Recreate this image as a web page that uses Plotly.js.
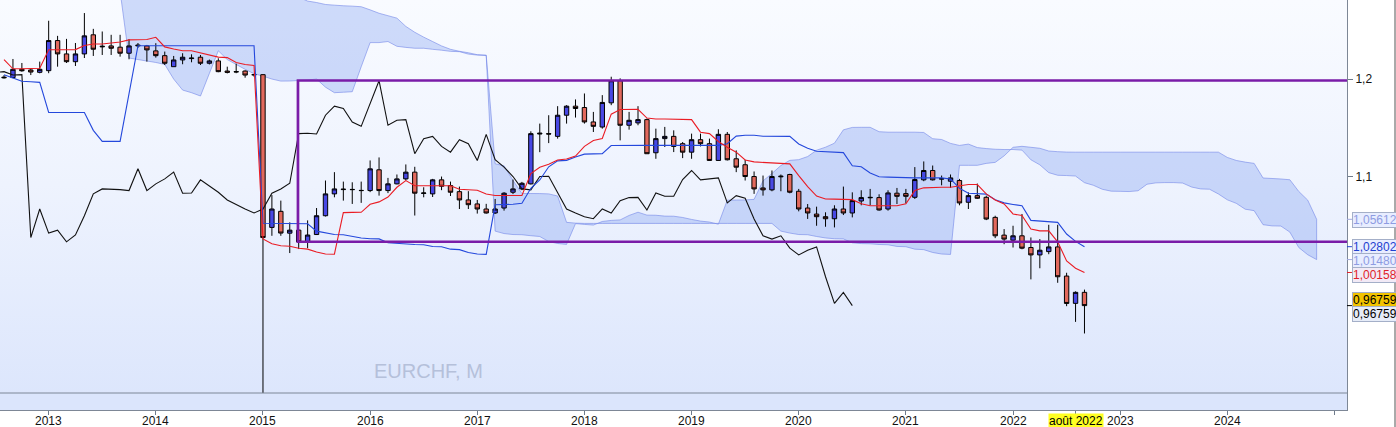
<!DOCTYPE html>
<html><head><meta charset="utf-8">
<script src="https://cdn.plot.ly/plotly-3.0.1.min.js"></script>
<style>
html,body{margin:0;padding:0;background:#fff;width:1396px;height:427px;overflow:hidden;}
#bg{position:absolute;left:0;top:0;width:1347px;height:410px;background:linear-gradient(to bottom,#f9fbff 0%,#eef3fe 45%,#dbe5fc 100%);}
#chart{position:absolute;left:0;top:0;width:1396px;height:427px;}
</style></head><body>
<div id="bg"></div><div id="chart"></div>
<script>
// Monthly EURCHF, Aug 2012 .. Sep 2022 (index 0 = Jan 2013)
const firstMonth = -5;
const open  = [1.2012,1.2015,1.2100,1.2093,1.2069,
 1.2086,1.2395,1.2258,1.2178,1.2258,1.2454,1.2330,1.2340,1.2327,1.2265,
 1.2340,1.2340,1.2289,1.2240,1.2127,1.2196,1.2210,1.2224,1.2162,1.2186,
 1.2082,1.2072,1.2082,1.2043,1.2045,1.0478,1.0643,1.0419,1.0450,1.0333,
 1.0405,1.0598,1.0822,1.0866,1.0868,1.0858,1.0856,1.1069,1.0856,1.0925,
 1.0976,1.1045,1.0827,1.0822,1.0966,1.0907,1.0845,1.0760,1.0719,1.0667,
 1.0626,1.0677,1.0839,1.0873,1.0925,1.1436,1.1440,1.1412,1.1629,1.1722,
 1.1708,1.1560,1.1508,1.1756,1.1983,1.1526,1.1550,1.1584,1.1244,1.1389,
 1.1412,1.1337,1.1250,1.1378,1.1337,1.1165,1.1433,1.1182,1.1121,1.1000,
 1.0883,1.0863,1.0997,1.1021,1.0849,1.0677,1.0615,1.0588,1.0567,1.0667,
 1.0626,1.0749,1.0782,1.0784,1.0667,1.0829,1.0825,1.0787,1.0966,1.1062,
 1.0973,1.0952,1.0959,1.0736,1.0804,1.0787,1.0581,1.0399,1.0347,1.0392,
 1.0272,1.0196,1.0230,1.0278,0.9979,0.9699,0.9812];
const high  = [1.2040,1.2206,1.2165,1.2110,1.2179,
 1.2598,1.2443,1.2412,1.2370,1.2677,1.2515,1.2488,1.2454,1.2454,1.2409,
 1.2370,1.2350,1.2368,1.2282,1.2237,1.2265,1.2254,1.2247,1.2200,1.2213,
 1.2127,1.2158,1.2090,1.2050,1.2050,1.0810,1.0753,1.0530,1.0460,1.0550,
 1.0677,1.0959,1.1045,1.0948,1.0941,1.0948,1.1165,1.1196,1.0986,1.1021,
 1.1124,1.1100,1.0890,1.0976,1.1000,1.0948,1.0897,1.0850,1.0760,1.0720,
 1.0770,1.0840,1.0969,1.0945,1.1464,1.1543,1.1629,1.1722,1.1732,1.1791,
 1.1852,1.1663,1.1835,1.2024,1.2007,1.1663,1.1722,1.1595,1.1491,1.1509,
 1.1474,1.1354,1.1440,1.1440,1.1389,1.1485,1.1457,1.1268,1.1172,1.1052,
 1.1010,1.1062,1.1021,1.1028,1.0873,1.0718,1.0691,1.0633,1.0705,1.0897,
 1.0838,1.0859,1.0873,1.0818,1.0859,1.0883,1.0873,1.1097,1.1155,1.1113,
 1.1010,1.1021,1.0976,1.0838,1.0928,1.0804,1.0598,1.0461,1.0495,1.0616,
 1.0375,1.0358,1.0505,1.0505,1.0013,0.9822,0.9840];
const low   = [1.2005,1.2010,1.2075,1.2041,1.2059,
 1.2060,1.2127,1.2165,1.2134,1.2216,1.2237,1.2247,1.2247,1.2230,1.2203,
 1.2320,1.2179,1.2220,1.2144,1.2127,1.2152,1.2172,1.2144,1.2150,1.2070,
 1.2058,1.2060,1.2014,1.2025,0.8352,1.0392,1.0392,1.0215,1.0256,1.0265,
 1.0400,1.0590,1.0787,1.0753,1.0719,1.0730,1.0840,1.0804,1.0830,1.0920,
 1.0960,1.0600,1.0787,1.0790,1.0860,1.0800,1.0667,1.0667,1.0620,1.0620,
 1.0616,1.0650,1.0820,1.0860,1.0918,1.1250,1.1343,1.1389,1.1543,1.1605,
 1.1543,1.1457,1.1491,1.1732,1.1371,1.1481,1.1526,1.1234,1.1182,1.1303,
 1.1251,1.1189,1.1182,1.1309,1.1165,1.1165,1.1165,1.1045,1.0959,1.0822,
 1.0804,1.0849,1.0849,1.0828,1.0643,1.0565,1.0495,1.0485,1.0478,1.0605,
 1.0581,1.0705,1.0705,1.0650,1.0650,1.0718,1.0725,1.0770,1.0952,1.0959,
 1.0910,1.0883,1.0705,1.0667,1.0770,1.0553,1.0368,1.0306,1.0272,1.0254,
 0.9945,1.0059,1.0203,0.9910,0.9670,0.9509,0.9390];
const close = [1.2018,1.2100,1.2085,1.2072,1.2100,
 1.2395,1.2258,1.2178,1.2258,1.2443,1.2306,1.2336,1.2316,1.2265,1.2340,
 1.2347,1.2299,1.2240,1.2162,1.2196,1.2224,1.2215,1.2162,1.2186,1.2076,
 1.2069,1.2076,1.2041,1.2045,1.0374,1.0667,1.0420,1.0450,1.0330,1.0400,
 1.0598,1.0822,1.0873,1.0870,1.0866,1.0856,1.1079,1.0856,1.0925,1.0976,
 1.1045,1.0829,1.0831,1.0966,1.0900,1.0839,1.0760,1.0711,1.0667,1.0626,
 1.0667,1.0829,1.0873,1.0931,1.1440,1.1444,1.1436,1.1629,1.1722,1.1698,
 1.1560,1.1515,1.1760,1.1983,1.1526,1.1577,1.1584,1.1234,1.1389,1.1412,
 1.1309,1.1250,1.1378,1.1337,1.1165,1.1433,1.1172,1.1096,1.1000,1.0873,
 1.0863,1.1000,1.1003,1.0839,1.0667,1.0626,1.0588,1.0567,1.0667,1.0626,
 1.0753,1.0784,1.0786,1.0657,1.0832,1.0797,1.0797,1.0969,1.1062,1.0966,
 1.0979,1.0986,1.0729,1.0804,1.0777,1.0564,1.0392,1.0358,1.0392,1.0265,
 1.0196,1.0244,1.0278,0.9972,0.9698,0.9812,0.96759];
const tenkan = [1.2200,1.2105,1.2105,1.2105,1.2110,
 1.2300,1.2302,1.2302,1.2302,1.2344,1.2359,1.2359,1.2368,1.2380,1.2402,
 1.2406,1.2406,1.2428,1.2330,1.2308,1.2290,1.2290,1.2268,1.2249,1.2225,
 1.2220,1.2170,1.2150,1.2140,1.0360,1.0310,1.0290,1.0285,1.0265,1.0255,
 1.0225,1.0205,1.0203,1.0630,1.0632,1.0633,1.0715,1.0740,1.0790,1.0890,
 1.0958,1.0905,1.0905,1.0905,1.0905,1.0905,1.0870,1.0865,1.0860,1.0820,
 1.0805,1.0805,1.0805,1.0805,1.1030,1.1096,1.1125,1.1170,1.1180,1.1210,
 1.1310,1.1370,1.1390,1.1640,1.1687,1.1690,1.1690,1.1600,1.1590,1.1590,
 1.1590,1.1588,1.1584,1.1455,1.1440,1.1360,1.1300,1.1250,1.1170,1.1150,
 1.1145,1.1141,1.1141,1.1130,1.1010,1.0897,1.0800,1.0770,1.0768,1.0765,
 1.0763,1.0720,1.0701,1.0701,1.0701,1.0701,1.0720,1.0856,1.0884,1.0890,
 1.0890,1.0890,1.0904,1.0918,1.0918,1.0822,1.0760,1.0719,1.0616,1.0600,
 1.0461,1.0443,1.0443,1.0330,1.0134,1.0060,1.00158];
const kijun = [1.2045,1.2010,1.1978,1.1972,1.1966,
 1.1657,1.1657,1.1657,1.1657,1.1657,1.1474,1.1361,1.1361,1.1361,1.1850,
 1.2342,1.2342,1.2342,1.2342,1.2342,1.2342,1.2342,1.2342,1.2342,1.2342,
 1.2342,1.2342,1.2342,1.2342,1.0520,1.0520,1.0520,1.0520,1.0520,1.0515,
 1.0440,1.0420,1.0405,1.0403,1.0385,1.0370,1.0362,1.0360,1.0320,1.0312,
 1.0310,1.0303,1.0300,1.0283,1.0280,1.0255,1.0250,1.0221,1.0205,1.0201,
 1.0710,1.0712,1.0715,1.0726,1.0880,1.0965,1.1100,1.1161,1.1166,1.1200,
 1.1230,1.1232,1.1234,1.1318,1.1320,1.1320,1.1320,1.1320,1.1320,1.1320,
 1.1320,1.1320,1.1320,1.1320,1.1320,1.1320,1.1337,1.1415,1.1423,1.1423,
 1.1414,1.1412,1.1412,1.1412,1.1334,1.1290,1.1260,1.1255,1.1251,1.1245,
 1.1110,1.1100,1.1037,1.0998,1.0994,1.0990,1.0988,1.0986,1.0986,1.0986,
 1.0986,1.0975,1.0880,1.0828,1.0822,1.0820,1.0762,1.0730,1.0714,1.0700,
 1.0550,1.0545,1.0540,1.0530,1.0410,1.0335,1.0280];
// Cloud (Senkou spans), starting at index 8 (Sep 2013), projected to Nov 2024
const cloudStart = 8;
const senkouA = [1.2900,1.2216,
 1.2200,1.2185,1.2170,1.2150,1.2000,1.1887,1.1860,1.1826,1.2058,1.2290,
 1.2200,1.2150,1.2100,1.2055,1.2030,1.2000,1.1979,1.1980,1.1985,1.1990,
 1.2000,1.1917,1.1860,1.1865,1.1870,1.2126,1.2374,1.2374,1.2385,1.2336,
 1.2325,1.2316,1.2316,1.2305,1.2296,1.2284,1.2281,1.2256,1.2246,1.2241,
 1.0440,1.0415,1.0405,1.0403,1.0393,1.0385,1.0333,1.0313,1.0304,1.0517,
 1.0509,1.0502,1.0539,1.0550,1.0555,1.0601,1.0634,1.0604,1.0603,1.0594,
 1.0593,1.0580,1.0560,1.0543,1.0533,1.0511,1.0758,1.0759,1.0760,1.0766,
 1.0955,1.1031,1.1113,1.1166,1.1173,1.1205,1.1270,1.1301,1.1342,1.1479,
 1.1504,1.1505,1.1505,1.1460,1.1455,1.1455,1.1455,1.1455,1.1452,1.1388,
 1.1380,1.1340,1.1319,1.1333,1.1297,1.1287,1.1280,1.1277,1.1277,1.1271,
 1.1172,1.1120,1.1040,1.1013,1.1010,1.1005,1.0937,1.0910,1.0869,1.0850,
 1.0848,1.0846,1.0854,1.0921,1.0935,1.0938,1.0938,1.0933,1.0892,1.0873,
 1.0870,1.0821,1.0761,1.0725,1.0665,1.0650,1.0506,1.0494,1.0492,1.0430,
 1.0272,1.0198,1.0148];
const senkouB = [1.3300,1.3300,
 1.3300,1.3300,1.3300,1.3250,1.3200,1.3150,1.3100,1.3050,1.3000,1.2950,
 1.2950,1.2950,1.2900,1.2900,1.2900,1.2880,1.2870,1.2860,1.2840,1.2800,
 1.2785,1.2765,1.2758,1.2752,1.2748,1.2742,1.2710,1.2675,1.2650,1.2625,
 1.2540,1.2480,1.2430,1.2385,1.2340,1.2305,1.2285,1.2270,1.2250,1.2246,
 1.1131,1.1110,1.0960,1.0826,1.0826,1.0825,1.0822,1.0800,1.0530,1.0522,
 1.0519,1.0519,1.0519,1.0519,1.0519,1.0519,1.0519,1.0519,1.0519,1.0519,
 1.0519,1.0519,1.0519,1.0519,1.0519,1.0519,1.0519,1.0519,1.0519,1.0519,
 1.0519,1.0519,1.0440,1.0420,1.0405,1.0403,1.0385,1.0370,1.0362,1.0360,
 1.0320,1.0312,1.0310,1.0303,1.0300,1.0283,1.0280,1.0255,1.0250,1.0221,
 1.0205,1.0201,1.1115,1.1115,1.1115,1.1135,1.1145,1.1212,1.1300,1.1310,
 1.1300,1.1290,1.1262,1.1255,1.1251,1.1250,1.1250,1.1250,1.1250,1.1250,
 1.1250,1.1250,1.1250,1.1250,1.1250,1.1250,1.1250,1.1250,1.1250,1.1250,
 1.1250,1.1250,1.1196,1.1165,1.1148,1.1135,1.0985,1.0980,1.0975,1.0967,
 1.0847,1.0758,1.05612];
const chikouShift = 26;
const yearLabels = ['2013','2014','2015','2016','2017','2018','2019','2020','2021','2022','2023','2024',''];
const yTickVals = [1.1, 1.2];
const rangeTop = 1.1985, rangeBottom = 1.0331, rangeStart = 27.92; // drawn channel
const lastValues = [1.05612, 1.02802, 1.01480, 1.00158, 0.96759, 0.96759];
const markMonth = 115, markLabel = 'août 2022';

const monthIdx = open.map((_, k) => k + firstMonth);
const cloudIdx = senkouA.map((_, k) => k + cloudStart);
const chikouIdx = monthIdx.map(i => i - chikouShift);
const yearTicks = yearLabels.map((_, k) => k * 12);
const fmt = v => v.toFixed(5).replace('.', ',');

const FONT = 'Liberation Sans, Arial, sans-serif';
const edge = 'rgba(105,125,230,0.55)';
const LABEL_Y = -0.027; // x labels sit just under the axis line

// cloud polygon: forward along span A, back along span B
let cloudPath = 'M ' + cloudIdx.map((x, k) => x + ',' + senkouA[k]).join(' L ');
for (let k = cloudIdx.length - 1; k >= 0; k--) cloudPath += ' L ' + cloudIdx[k] + ',' + senkouB[k];
cloudPath += ' Z';

const traces = [
  {type:'candlestick', x: monthIdx, open, high, low, close,
   increasing:{line:{color:'#000', width:1}, fillcolor:'#4848e4'},
   decreasing:{line:{color:'#000', width:1}, fillcolor:'#e2695d'},
   whiskerwidth:0, hoverinfo:'skip', showlegend:false},
  {type:'scatter', mode:'lines', x: chikouIdx, y: close, line:{color:'#111', width:1.1}, hoverinfo:'skip', showlegend:false},
  {type:'scatter', mode:'lines', x: monthIdx, y: kijun, line:{color:'#2448dc', width:1.1}, hoverinfo:'skip', showlegend:false},
  {type:'scatter', mode:'lines', x: monthIdx, y: tenkan, line:{color:'#ea1c24', width:1.1}, hoverinfo:'skip', showlegend:false}
];

const labelStyles = [
  {color:'#8e9ce2', bg:'#e8edff', border:'#a4afc8', shift:-0.7, tick:'#a0a8e0'},
  {color:'#1f3fd0', bg:'#e8edff', border:'#a4afc8', shift:-0.3, tick:'#1f3fd0'},
  {color:'#8e9ce2', bg:'#e8edff', border:'#a4afc8', shift:-1.4, tick:'#a0a8e0'},
  {color:'#e01e2a', bg:'#f2eaf6', border:'#a4afc8', shift:-2.5, tick:'#e01e2a'},
  {color:'#000000', bg:'#f2c300', border:'#a4afc8', shift:5.6, tick:null},
  {color:'#000000', bg:'#e6ecf8', border:'#a4afc8', shift:-8.4, tick:'#000'}
];

const annotations = lastValues.map((v, k) => ({
  xref:'paper', yref:'y', x:1.0037, y:v, xanchor:'left', yanchor:'middle', yshift:labelStyles[k].shift,
  text: fmt(v), showarrow:false, font:{family:FONT, size:12, color:labelStyles[k].color},
  bgcolor:labelStyles[k].bg, bordercolor:labelStyles[k].border, borderwidth:1, borderpad:0
}));
yearLabels.forEach((t, k) => {
  if (t) annotations.push({xref:'x', yref:'paper', x:yearTicks[k], y:LABEL_Y, xanchor:'center', yanchor:'middle',
    text:t, showarrow:false, font:{family:FONT, size:12, color:'#111'}});
});
annotations.push({xref:'x', yref:'paper', x:markMonth, y:LABEL_Y, yanchor:'middle', xanchor:'center',
  text:markLabel, showarrow:false, font:{family:FONT, size:12, color:'#000'}, bgcolor:'#ffff22', borderpad:0});
annotations.push({xref:'paper', yref:'paper', x:428/1347, y:(410-371)/410, xanchor:'center', yanchor:'middle',
  text:'EURCHF, M', showarrow:false, font:{family:FONT, size:20, color:'#b5c0da'}});

const shapes = [
  {type:'path', xref:'x', yref:'y', path: cloudPath, fillcolor:'rgba(130,160,242,0.36)', line:{color:edge, width:1}, layer:'below'},
  {type:'rect', xref:'x', yref:'y', x0: rangeStart, x1: 170, y0: rangeBottom, y1: rangeTop, line:{color:'#7a1ca8', width:2.7}, fillcolor:'rgba(0,0,0,0)', layer:'above'},
  {type:'rect', xref:'paper', yref:'paper', x0:0, x1:1, y0:0, y1:17/410, fillcolor:'#dbe5fc', line:{width:0}, layer:'above'},
  {type:'line', xref:'paper', yref:'paper', x0:0, x1:1, y0:17/410, y1:17/410, line:{color:'#7d8796', width:1}, layer:'above'},
  {type:'line', xref:'paper', yref:'paper', x0:1395/1347, x1:1395/1347, y0:-17/410, y1:1, line:{color:'#555', width:1}}
];
lastValues.forEach((v, k) => {
  if (labelStyles[k].tick) shapes.push({type:'line', xref:'paper', yref:'y', x0:1, x1:1.0037, y0:v, y1:v, line:{color:labelStyles[k].tick, width:1}});
});

const layout = {
  width:1396, height:427, margin:{l:0, r:49, t:0, b:17},
  paper_bgcolor:'rgba(0,0,0,0)', plot_bgcolor:'rgba(0,0,0,0)',
  showlegend:false, font:{family:FONT, size:12, color:'#111'},
  xaxis:{range:[-5.45, 145.4], tickvals: yearTicks.concat([markMonth]), showticklabels:false, ticks:'outside', ticklen:4, tickcolor:'#6f7b8b',
         showgrid:false, zeroline:false, showline:true, linecolor:'#7d8796', linewidth:1, rangeslider:{visible:false}, fixedrange:true},
  yaxis:{side:'right', range:[0.8605, 1.2811], tickvals: yTickVals, ticktext: yTickVals.map(v => String(v).replace('.', ',')),
         ticks:'outside', ticklen:5, tickcolor:'#6f7b8b', showgrid:false, zeroline:false, showline:true, linecolor:'#7d8796', linewidth:1,
         tickfont:{family:FONT, size:12, color:'#111'}, fixedrange:true},
  annotations, shapes
};
Plotly.newPlot('chart', traces, layout, {staticPlot:true, displayModeBar:false});
</script></body></html>
